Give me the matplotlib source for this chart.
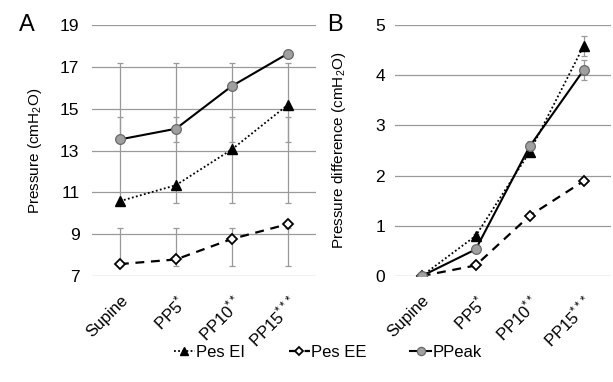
import matplotlib

matplotlib.use("Agg")
import matplotlib.pyplot as plt  # noqa: E402

plt.rcParams["font.family"] = ["Liberation Sans", "DejaVu Sans"]
plt.rcParams["mathtext.fontset"] = "custom"
plt.rcParams["mathtext.rm"] = "Liberation Sans"
plt.rcParams["mathtext.it"] = "Liberation Sans:italic"

CATS = ["Supine", "PP5$^{*}$", "PP10$^{**}$", "PP15$^{***}$"]
SERIES = ["Pes EI", "Pes EE", "PPeak"]

# panel A: absolute pressures
A_PES_EI = [10.58, 11.34, 13.05, 15.18]
A_PES_EE = [7.57, 7.79, 8.77, 9.48]
A_PPEAK = [13.53, 14.04, 16.08, 17.63]
# whisker ranges (low, high) drawn at every position in panel A
A_WHISKERS = [(13.4, 17.2), (10.5, 14.6), (7.5, 9.3)]

# panel B: difference from supine
B_PES_EI = [0.0, 0.80, 2.47, 4.58]
B_PES_EE = [0.0, 0.21, 1.20, 1.89]
B_PPEAK = [0.0, 0.53, 2.58, 4.10]
B_ERR_EI = [0.0, 0.03, 0.08, 0.2]
B_ERR_EE = [0.0, 0.0, 0.0, 0.0]
B_ERR_PK = [0.0, 0.03, 0.1, 0.2]

GRID = "#9a9a9a"
ERRC = "#999999"


def draw_series(ax, ei, ee, pk):
    x = range(len(CATS))
    ax.plot(x, ei, color="black", ls=(0, (1, 1.3)), lw=1.3, marker="^",
            ms=6.5, mfc="black", mec="black", label=SERIES[0], zorder=4)
    ax.plot(x, ee, color="black", ls=(0, (4, 3)), lw=1.6, marker="D",
            ms=5, mfc="white", mec="black", mew=1.3, label=SERIES[1], zorder=4)
    ax.plot(x, pk, color="black", ls="-", lw=1.5, marker="o",
            ms=7, mfc="#a0a0a0", mec="#6a6a6a", mew=0.9, label=SERIES[2], zorder=5)


def style(ax, ticks, ylabel, ypad):
    ax.set_xlim(-0.5, len(CATS) - 0.5)
    ax.set_ylim(ticks[0], ticks[-1])
    ax.set_yticks(ticks)
    ax.yaxis.grid(True, color=GRID, lw=0.9)
    ax.set_axisbelow(True)
    for s in ax.spines.values():
        s.set_visible(False)
    ax.tick_params(length=0, labelsize=12.5)
    ax.tick_params(axis="y", pad=ypad)
    ax.set_xticks(range(len(CATS)))
    ax.set_xticklabels(CATS, rotation=45, ha="right", rotation_mode="anchor",
                       fontsize=12)
    ax.tick_params(axis="x", pad=12)
    ax.set_ylabel(ylabel, fontsize=11)


fig = plt.figure(figsize=(6.13, 3.82), dpi=100)
axA = fig.add_axes([0.150, 0.2775, 0.365, 0.657])
axB = fig.add_axes([0.644, 0.2775, 0.352, 0.657])

# panel A
xs = list(range(len(CATS)))
for lo, hi in A_WHISKERS:
    axA.errorbar(xs, [(lo + hi) / 2] * len(xs), yerr=[(hi - lo) / 2] * len(xs),
                 fmt="none", ecolor=ERRC, elinewidth=0.9, capsize=2,
                 capthick=0.9, zorder=2)
draw_series(axA, A_PES_EI, A_PES_EE, A_PPEAK)
style(axA, [7, 9, 11, 13, 15, 17, 19], "Pressure (cmH$_2$O)", 9)
axA.yaxis.set_label_coords(-0.215, 0.5)

# panel B
for vals, err in [(B_PES_EI, B_ERR_EI), (B_PES_EE, B_ERR_EE), (B_PPEAK, B_ERR_PK)]:
    axB.errorbar(xs, vals, yerr=err, fmt="none", ecolor=ERRC, elinewidth=0.9,
                 capsize=2, capthick=0.9, zorder=2)
draw_series(axB, B_PES_EI, B_PES_EE, B_PPEAK)
style(axB, [0, 1, 2, 3, 4, 5], "Pressure difference (cmH$_2$O)", 7)
axB.yaxis.set_label_coords(-0.215, 0.5)

fig.text(0.044, 0.935, "A", fontsize=17, va="center", ha="center")
fig.text(0.547, 0.935, "B", fontsize=17, va="center", ha="center")

handles, labels = axA.get_legend_handles_labels()
fig.legend(handles, labels, loc="center", bbox_to_anchor=(0.535, 0.078),
           ncol=3, frameon=False, fontsize=12, handlelength=1.25,
           handletextpad=0.1, columnspacing=2.6, markerscale=0.85)

fig.savefig("out.png", dpi=100)
